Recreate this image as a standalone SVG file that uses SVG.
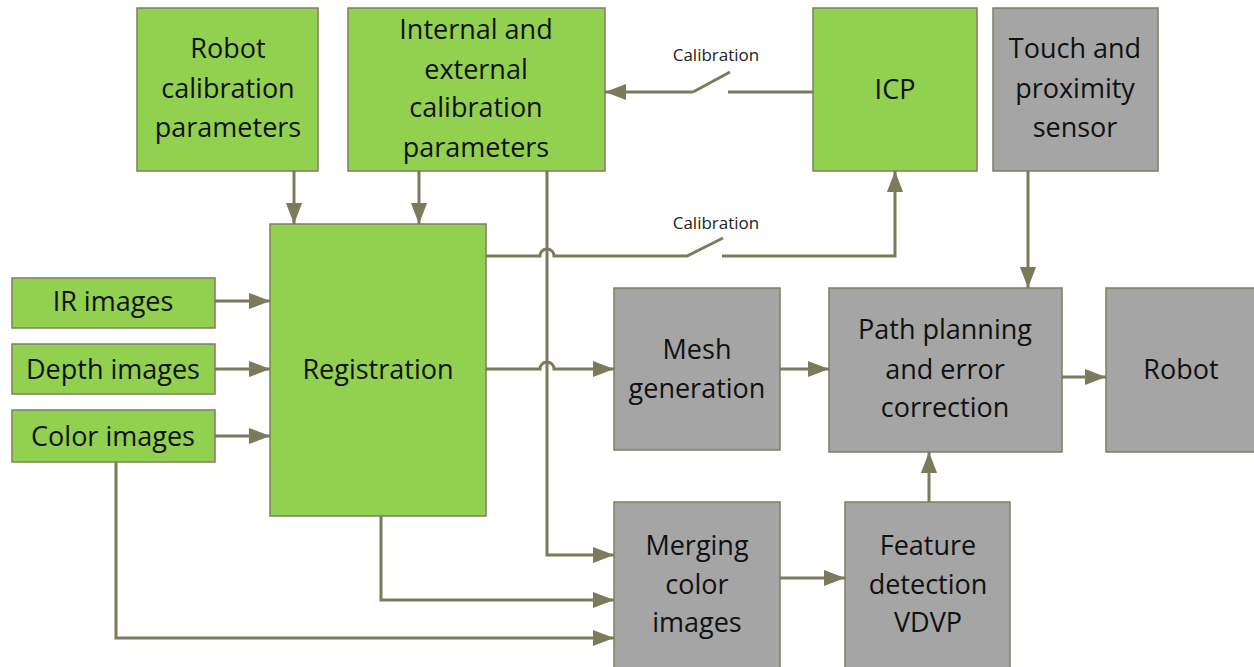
<svg xmlns="http://www.w3.org/2000/svg" width="1254" height="667" viewBox="0 0 1254 667">
<style>
.g{fill:#92d050;stroke:#7f7f62;stroke-width:1.5}
.y{fill:#a5a5a5;stroke:#7f7f62;stroke-width:1.5}
.t{font-family:"Open Sans",sans-serif;font-size:27px;fill:#111;text-anchor:middle}
.s{font-family:"Open Sans",sans-serif;font-size:17px;fill:#222;text-anchor:middle}
.c{fill:none;stroke:#7b7b5c;stroke-width:3}
</style>
<defs>
<marker id="a" markerWidth="7" markerHeight="6" refX="7" refY="3" orient="auto" markerUnits="strokeWidth"><path d="M0,0.3 L7,3 L0,5.7 Z" fill="#7b7b5c"/></marker>
</defs>
<rect width="1254" height="667" fill="#fff"/>
<g id="robot-calib"><rect class="g" x="137" y="8" width="181" height="163"/><text class="t"><tspan x="228" y="58">Robot</tspan><tspan x="228" y="98">calibration</tspan><tspan x="228" y="137">parameters</tspan></text></g>
<g id="int-ext"><rect class="g" x="348" y="8" width="257" height="163"/><text class="t"><tspan x="476" y="39">Internal and</tspan><tspan x="476" y="79">external</tspan><tspan x="476" y="117">calibration</tspan><tspan x="476" y="157">parameters</tspan></text></g>
<g id="icp"><rect class="g" x="813" y="8" width="164" height="163"/><text class="t" x="895" y="99">ICP</text></g>
<g id="touch"><rect class="y" x="993" y="8" width="165" height="163"/><text class="t"><tspan x="1075" y="58">Touch and</tspan><tspan x="1075" y="98">proximity</tspan><tspan x="1075" y="137">sensor</tspan></text></g>
<g id="ir"><rect class="g" x="12" y="278" width="203" height="50"/><text class="t" x="113" y="311">IR images</text></g>
<g id="depth"><rect class="g" x="12" y="344" width="203" height="50"/><text class="t" x="113" y="379">Depth images</text></g>
<g id="color"><rect class="g" x="12" y="410" width="203" height="52"/><text class="t" x="113" y="446">Color images</text></g>
<g id="registration"><rect class="g" x="270" y="224" width="216" height="292"/><text class="t" x="378" y="379">Registration</text></g>
<g id="mesh"><rect class="y" x="614" y="288" width="166" height="162"/><text class="t"><tspan x="697" y="359">Mesh</tspan><tspan x="697" y="398">generation</tspan></text></g>
<g id="path"><rect class="y" x="829" y="288" width="233" height="164"/><text class="t"><tspan x="945" y="339">Path planning</tspan><tspan x="945" y="379">and error</tspan><tspan x="945" y="417">correction</tspan></text></g>
<g id="robot"><rect class="y" x="1106" y="288" width="150" height="164"/><text class="t" x="1181" y="379">Robot</text></g>
<g id="merging"><rect class="y" x="614" y="502" width="166" height="170"/><text class="t"><tspan x="697" y="555">Merging</tspan><tspan x="697" y="594">color</tspan><tspan x="697" y="632">images</tspan></text></g>
<g id="feature"><rect class="y" x="845" y="502" width="165" height="170"/><text class="t"><tspan x="928" y="555">Feature</tspan><tspan x="928" y="594">detection</tspan><tspan x="928" y="632">VDVP</tspan></text></g>
<g id="connectors">
<path class="c" marker-end="url(#a)" d="M294,171 V224"/>
<path class="c" marker-end="url(#a)" d="M419,171 V224"/>
<path class="c" marker-end="url(#a)" d="M693,92 H605"/>
<path class="c" d="M693,92 L730,72"/>
<path class="c" d="M728,92 H813"/>
<text class="s" x="716" y="61">Calibration</text>
<path class="c" d="M486,256 H540 A7,7 0 0 1 554,256 H687 L723,238"/>
<path class="c" marker-end="url(#a)" d="M722,256 H895 V171"/>
<text class="s" x="716" y="229">Calibration</text>
<path class="c" marker-end="url(#a)" d="M486,369 H540 A7,7 0 0 1 554,369 H614"/>
<path class="c" marker-end="url(#a)" d="M780,369 H829"/>
<path class="c" marker-end="url(#a)" d="M1062,377 H1106"/>
<path class="c" marker-end="url(#a)" d="M1028,171 V288"/>
<path class="c" marker-end="url(#a)" d="M929,502 V452"/>
<path class="c" marker-end="url(#a)" d="M780,578 H845"/>
<path class="c" marker-end="url(#a)" d="M215,301 H270"/>
<path class="c" marker-end="url(#a)" d="M215,369 H270"/>
<path class="c" marker-end="url(#a)" d="M215,436 H270"/>
<path class="c" marker-end="url(#a)" d="M547,171 V555 H614"/>
<path class="c" marker-end="url(#a)" d="M381,516 V600 H614"/>
<path class="c" marker-end="url(#a)" d="M116,462 V638 H614"/>
</g>
</svg>
